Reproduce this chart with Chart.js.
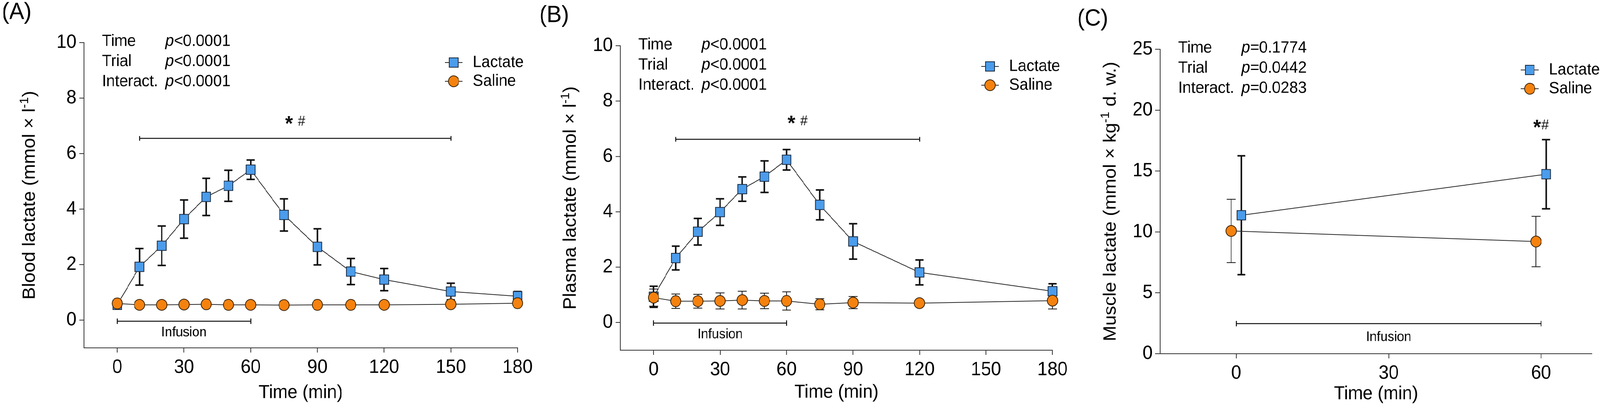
<!DOCTYPE html>
<html>
<head>
<meta charset="utf-8">
<script src="https://cdn.jsdelivr.net/npm/chart.js@4.4.0/dist/chart.umd.min.js"></script>
<style>
html,body{margin:0;padding:0;background:#fff;overflow:hidden;}
#wrap{position:absolute;left:0;top:0;width:4328px;height:1049px;overflow:hidden;background:#fff;transform-origin:0 0;}
.panel{position:absolute;top:0;height:1049px;}
canvas{display:block;}
</style>
</head>
<body>
<div id="wrap">
  <div class="panel" style="left:0px;width:1450px"><canvas id="cA"></canvas></div>
  <div class="panel" style="left:1450px;width:1450px"><canvas id="cB"></canvas></div>
  <div class="panel" style="left:2900px;width:1428px"><canvas id="cC"></canvas></div>
</div>
<script>
// ---------------- DATA ----------------
const seriesNames = ['Lactate', 'Saline'];
const statTerms = ['Time', 'Trial', 'Interact.'];
const statsA = ['<0.0001', '<0.0001', '<0.0001'];
const statsB = ['<0.0001', '<0.0001', '<0.0001'];
const statsC = ['=0.1774', '=0.0442', '=0.0283'];

// (A) Blood lactate
const timeA = [0, 10, 20, 30, 40, 50, 60, 75, 90, 105, 120, 150, 180];
const bloodLactate   = [0.55, 1.92, 2.68, 3.64, 4.44, 4.84, 5.42, 3.79, 2.64, 1.75, 1.46, 1.03, 0.86];
const bloodLactateSD = [0.08, 0.66, 0.71, 0.69, 0.67, 0.56, 0.35, 0.58, 0.65, 0.47, 0.40, 0.30, 0.17];
const bloodSaline    = [0.60, 0.55, 0.55, 0.56, 0.57, 0.55, 0.55, 0.54, 0.55, 0.55, 0.55, 0.57, 0.61];
const bloodSalineSD  = [0.06, 0.05, 0.05, 0.05, 0.05, 0.05, 0.05, 0.05, 0.05, 0.05, 0.05, 0.06, 0.08];

// (B) Plasma lactate
const timeB = [0, 10, 20, 30, 40, 50, 60, 75, 90, 120, 180];
const plasmaLactate   = [0.93, 2.33, 3.28, 3.99, 4.82, 5.27, 5.88, 4.25, 2.93, 1.81, 1.13];
const plasmaLactateSD = [0.38, 0.43, 0.48, 0.48, 0.44, 0.57, 0.37, 0.54, 0.64, 0.45, 0.27];
const plasmaSaline    = [0.90, 0.77, 0.77, 0.78, 0.81, 0.78, 0.78, 0.66, 0.72, 0.70, 0.79];
const plasmaSalineSD  = [0.31, 0.26, 0.25, 0.29, 0.32, 0.28, 0.33, 0.20, 0.22, 0.08, 0.30];

// (C) Muscle lactate
const timeC = [0, 60];
const muscleLactate   = [11.37, 14.74];
const muscleLactateSD = [4.88, 2.84];
const muscleSaline    = [10.08, 9.21];
const muscleSalineSD  = [2.60, 2.07];

// ticks
const xTicksAB = [0, 30, 60, 90, 120, 150, 180];
const yTicksAB = [0, 2, 4, 6, 8, 10];
const xTicksC = [0, 30, 60];
const yTicksC = [0, 5, 10, 15, 20, 25];

// significance / infusion time ranges (min)
const sigRangeA = [10, 150];
const sigRangeB = [10, 120];
const sigTimeC = [60];
const infusionRange = [0, 60];

// ---------------- FIT TO VIEWPORT ----------------
(function fit() {
  const W = 4328, H = 1049;
  const vw = window.innerWidth || W, vh = window.innerHeight || H;
  const sx = vw / W, sy = vh / H;
  if (Math.abs(sx - 1) > 0.002 || Math.abs(sy - 1) > 0.002) {
    document.getElementById('wrap').style.transform = 'scale(' + sx + ',' + sy + ')';
  }
})();

// ---------------- STYLE ----------------
const BLUE = '#4b9ceb', ORANGE = '#f5820f';
const AXIS = '#333333', INK = '#111111';
const SANS = '"Liberation Sans", Arial, sans-serif';

function makeDs(name, xs, ys, sds, isLac, dodge) {
  return {
    label: name,
    data: xs.map((t, i) => ({x: t + (dodge || 0), y: ys[i]})),
    sd: sds,
    errWidth: isLac ? 4 : 2,
    capHalf: isLac ? 11 : 12,
    borderColor: '#2a2a2a',
    borderWidth: 2,
    pointStyle: isLac ? 'rect' : 'circle',
    pointRadius: isLac ? 17 : 14,
    pointHoverRadius: isLac ? 17 : 14,
    pointBackgroundColor: isLac ? BLUE : ORANGE,
    pointBorderColor: isLac ? '#1c2b40' : '#3a2408',
    pointBorderWidth: 2,
    tension: 0,
    fill: false,
    clip: false,
    order: isLac ? 1 : 0
  };
}

function drawPointShape(ctx, isLac, x, y) {
  ctx.save();
  ctx.lineWidth = 2;
  if (isLac) {
    const s = 12;
    ctx.fillStyle = BLUE; ctx.strokeStyle = '#1c2b40';
    ctx.fillRect(x - s, y - s, 2 * s, 2 * s);
    ctx.strokeRect(x - s, y - s, 2 * s, 2 * s);
  } else {
    ctx.fillStyle = ORANGE; ctx.strokeStyle = '#3a2408';
    ctx.beginPath(); ctx.arc(x, y, 14, 0, Math.PI * 2); ctx.fill(); ctx.stroke();
  }
  ctx.restore();
}

function hbar(ctx, x1, x2, y, capH, lw) {
  ctx.save();
  ctx.strokeStyle = INK; ctx.lineWidth = lw;
  ctx.beginPath();
  ctx.moveTo(x1, y); ctx.lineTo(x2, y);
  ctx.moveTo(x1, y - capH); ctx.lineTo(x1, y + capH);
  ctx.moveTo(x2, y - capH); ctx.lineTo(x2, y + capH);
  ctx.stroke();
  ctx.restore();
}

// draw a glyph so that its ink box is centred on (cx, cy)
function centredGlyph(ctx, ch, font, cx, cy) {
  ctx.font = font;
  ctx.textAlign = 'left';
  ctx.textBaseline = 'alphabetic';
  const m = ctx.measureText(ch);
  const w = m.actualBoundingBoxLeft + m.actualBoundingBoxRight;
  const h = m.actualBoundingBoxAscent + m.actualBoundingBoxDescent;
  const x = cx - w / 2 + m.actualBoundingBoxLeft;
  const y = cy + h / 2 - m.actualBoundingBoxDescent;
  ctx.fillText(ch, x, y);
}

function drawStarHash(ctx, cx, cy, gap) {
  ctx.save();
  ctx.fillStyle = INK;
  centredGlyph(ctx, '*', 'bold 54px ' + SANS, cx - gap, cy - 1);
  centredGlyph(ctx, '#', '36px ' + SANS, cx + gap, cy);
  ctx.restore();
}

const decor = {
  id: 'decor',
  beforeDatasetsDraw(chart) {
    const ctx = chart.ctx, xs = chart.scales.x, ys = chart.scales.y;
    chart.data.datasets.forEach(ds => {
      ds.data.forEach((pt, j) => {
        const sd = ds.sd[j];
        const px = xs.getPixelForValue(pt.x);
        const yT = ys.getPixelForValue(pt.y + sd), yB = ys.getPixelForValue(pt.y - sd);
        ctx.save();
        ctx.strokeStyle = INK; ctx.lineWidth = ds.errWidth;
        ctx.beginPath();
        ctx.moveTo(px, yT); ctx.lineTo(px, yB);
        ctx.moveTo(px - ds.capHalf, yT); ctx.lineTo(px + ds.capHalf, yT);
        ctx.moveTo(px - ds.capHalf, yB); ctx.lineTo(px + ds.capHalf, yB);
        ctx.stroke();
        ctx.restore();
      });
    });
  },
  afterDraw(chart, args, o) {
    const ctx = chart.ctx, xs = chart.scales.x, ys = chart.scales.y;
    const ca = chart.chartArea;
    ctx.save();
    // panel letter
    ctx.fillStyle = '#000';
    ctx.font = '60px ' + SANS;
    ctx.textAlign = 'left'; ctx.textBaseline = 'middle';
    ctx.fillText(o.letter, o.letterX, ca.top - 77);

    // stats block
    statTerms.forEach((t, i) => {
      const y = ca.top + o.statRow0 + i * 51.5;
      ctx.font = '42px ' + SANS;
      ctx.fillText(t, ca.left + 49, y);
      ctx.font = 'italic 42px ' + SANS;
      ctx.fillText('p', ca.left + 220, y);
      const pw = ctx.measureText('p').width;
      ctx.font = '42px ' + SANS;
      ctx.fillText(o.stats[i], ca.left + 220 + pw, y);
    });

    // legend
    seriesNames.forEach((n, i) => {
      const y = ca.top + o.legRow0 + i * 48;
      const cx = ca.left + 1000;
      ctx.save();
      ctx.strokeStyle = '#2a2a2a'; ctx.lineWidth = 2;
      ctx.beginPath(); ctx.moveTo(cx - 24, y); ctx.lineTo(cx + 24, y); ctx.stroke();
      ctx.restore();
      drawPointShape(ctx, i === 0, cx, y);
      ctx.fillStyle = '#000';
      ctx.font = '42px ' + SANS;
      ctx.textAlign = 'left'; ctx.textBaseline = 'middle';
      ctx.fillText(n, ca.left + 1052, y);
    });

    // significance bar
    if (o.sig) {
      const x1 = xs.getPixelForValue(o.sig[0]), x2 = xs.getPixelForValue(o.sig[1]);
      hbar(ctx, x1, x2, ys.getPixelForValue(o.sigY), 6, 2.5);
      drawStarHash(ctx, (x1 + x2) / 2, ys.getPixelForValue(o.sigLabelY), 17);
    }
    if (o.sigPoint) {
      o.sigPoint.forEach(t => drawStarHash(ctx, xs.getPixelForValue(t), ys.getPixelForValue(o.sigLabelY), 11));
    }

    // infusion bar
    const ix1 = xs.getPixelForValue(infusionRange[0]), ix2 = xs.getPixelForValue(infusionRange[1]);
    hbar(ctx, ix1, ix2, ys.getPixelForValue(o.infY), 7, 2.5);
    ctx.fillStyle = '#000';
    ctx.font = '35px ' + SANS;
    ctx.textAlign = 'center'; ctx.textBaseline = 'middle';
    ctx.fillText('Infusion', (ix1 + ix2) / 2, ys.getPixelForValue(o.infTextY));

    // y-axis title with superscript
    ctx.save();
    const cx = ca.left + o.yTitleDX, cy = (ca.top + ca.bottom) / 2;
    ctx.translate(cx, cy);
    ctx.rotate(-Math.PI / 2);
    const segs = o.yTitle;
    let total = 0;
    segs.forEach(s => { ctx.font = (s.sup ? '32px ' : '48px ') + SANS; s.w = ctx.measureText(s.t).width; total += s.w; });
    let x = -total / 2;
    ctx.textAlign = 'left'; ctx.textBaseline = 'middle'; ctx.fillStyle = '#000';
    segs.forEach(s => {
      ctx.font = (s.sup ? '32px ' : '48px ') + SANS;
      ctx.fillText(s.t, x, s.sup ? -14 : 0);
      x += s.w;
    });
    ctx.restore();
    ctx.restore();
  }
};

function makeChart(id, w, cfg) {
  const cv = document.getElementById(id);
  cv.style.width = w + 'px'; cv.style.height = '1049px';
  cv.width = w; cv.height = 1049;
  return new Chart(cv, {
    type: 'line',
    data: {datasets: cfg.datasets},
    plugins: [decor],
    options: {
      responsive: false,
      maintainAspectRatio: false,
      animation: false,
      devicePixelRatio: 2,
      events: [],
      layout: {padding: {left: 0, top: cfg.top, right: cfg.right, bottom: 0}},
      plugins: {legend: {display: false}, tooltip: {enabled: false}, decor: cfg.decor},
      scales: {
        x: {
          type: 'linear', min: cfg.xMin, max: cfg.xMax,
          afterBuildTicks: ax => { ax.ticks = cfg.xTicks.map(v => ({value: v})); },
          afterFit: ax => { ax.height = cfg.xH; ax.paddingLeft = 0; ax.paddingRight = 0; ax.paddingTop = 0; ax.paddingBottom = 0; },
          grid: {drawOnChartArea: false, drawTicks: true, tickLength: 12, color: AXIS, lineWidth: 2},
          border: {display: true, color: AXIS, width: 2},
          ticks: {font: {family: SANS, size: 49}, color: '#000', padding: 9, maxRotation: 0, autoSkip: false},
          title: {display: true, text: 'Time (min)', color: '#000', font: {family: SANS, size: 48}, padding: {top: 0, bottom: cfg.xTitlePad}}
        },
        y: {
          type: 'linear', min: cfg.yMin, max: cfg.yMax,
          afterBuildTicks: ax => { ax.ticks = cfg.yTicks.map(v => ({value: v})); },
          afterFit: ax => { ax.width = cfg.yW; ax.paddingLeft = 0; ax.paddingRight = 0; ax.paddingTop = 0; ax.paddingBottom = 0; },
          grid: {drawOnChartArea: false, drawTicks: true, tickLength: 13, color: AXIS, lineWidth: 2},
          border: {display: true, color: AXIS, width: 2},
          ticks: {font: {family: SANS, size: 49}, color: '#000', padding: 7, autoSkip: false}
        }
      }
    }
  });
}

makeChart('cA', 1450, {
  datasets: [
    makeDs(seriesNames[0], timeA, bloodLactate, bloodLactateSD, true),
    makeDs(seriesNames[1], timeA, bloodSaline, bloodSalineSD, false)
  ],
  top: 109, right: 50, xH: 159, yW: 227, xTitlePad: 15,
  xMin: -15, xMax: 180, yMin: -1, yMax: 10, xTicks: xTicksAB, yTicks: yTicksAB,
  decor: {
    letter: '(A)', letterX: 5, stats: statsA, statRow0: -3, legRow0: 51,
    sig: sigRangeA, sigY: 6.55, sigLabelY: 7.19, infY: -0.04, infTextY: -0.45,
    yTitleDX: -146,
    yTitle: [{t: 'Blood lactate (mmol × l'}, {t: '-1', sup: true}, {t: ')'}]
  }
});

makeChart('cB', 1450, {
  datasets: [
    makeDs(seriesNames[0], timeB, plasmaLactate, plasmaLactateSD, true),
    makeDs(seriesNames[1], timeB, plasmaSaline, plasmaSalineSD, false)
  ],
  top: 117, right: 53, xH: 153, yW: 228, xTitlePad: 16,
  xMin: -15, xMax: 180, yMin: -1, yMax: 10, xTicks: xTicksAB, yTicks: yTicksAB,
  decor: {
    letter: '(B)', letterX: 9, stats: statsB, statRow0: -2, legRow0: 53,
    sig: sigRangeB, sigY: 6.62, sigLabelY: 7.31, infY: -0.02, infTextY: -0.43,
    yTitleDX: -134,
    yTitle: [{t: 'Plasma lactate (mmol × l'}, {t: '-1', sup: true}, {t: ')'}]
  }
});

makeChart('cC', 1428, {
  datasets: [
    makeDs(seriesNames[0], timeC, muscleLactate, muscleLactateSD, true, 1),
    makeDs(seriesNames[1], timeC, muscleSaline, muscleSalineSD, false, -1)
  ],
  top: 126, right: 22, xH: 144, yW: 238, xTitlePad: 12,
  xMin: -15, xMax: 70, yMin: 0, yMax: 25, xTicks: xTicksC, yTicks: yTicksC,
  decor: {
    letter: '(C)', letterX: 14, stats: statsC, statRow0: -3, legRow0: 53,
    sigPoint: sigTimeC, sigLabelY: 18.84, infY: 2.47, infTextY: 1.36,
    yTitleDX: -133,
    yTitle: [{t: 'Muscle lactate (mmol × kg'}, {t: '-1', sup: true}, {t: ' d. w.)'}]
  }
});
</script>
</body>
</html>
